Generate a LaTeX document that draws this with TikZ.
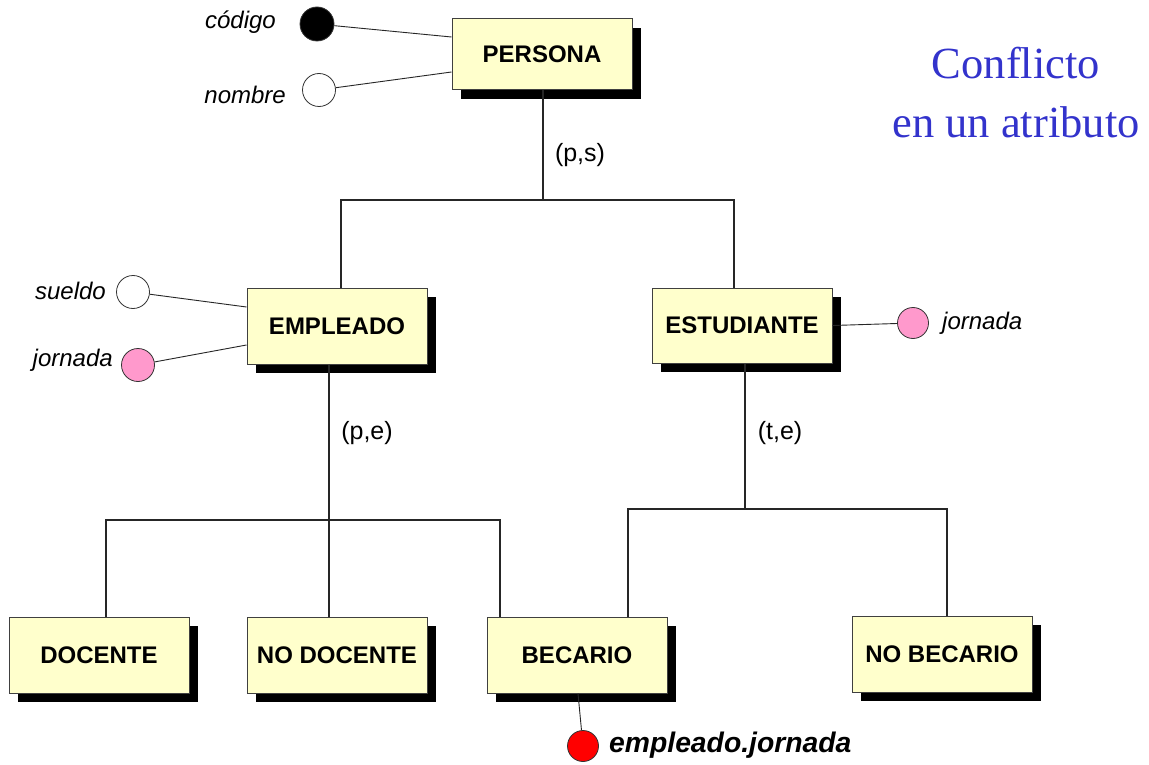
\documentclass[tikz,border=0pt]{standalone}
\usepackage{fontspec}
\setmainfont{Liberation Serif}
\newfontfamily\arialf{Liberation Sans}
\usetikzlibrary{shadows,calc}
\definecolor{boxfill}{RGB}{255,255,204}
\definecolor{pinkattr}{RGB}{255,153,204}
\definecolor{titleblue}{RGB}{51,51,204}
\begin{document}
\begin{tikzpicture}[x=1pt,y=-1pt,
  entity/.style={draw=black!75, line width=1pt, fill=boxfill, minimum width=180pt, minimum height=76pt,
    inner sep=0pt, font=\arialf\bfseries\fontsize{24}{28}\selectfont,
    general shadow={fill=black, shadow xshift=9pt, shadow yshift=-9pt}},
  attr/.style={circle, draw=black!80, line width=0.8pt, minimum size=33pt, inner sep=0pt},
  attrtext/.style={font=\arialf\itshape\fontsize{24}{28}\selectfont, inner sep=0pt},
  constr/.style={font=\arialf\fontsize{25}{29}\selectfont, inner sep=0pt},
  link/.style={draw=black!85, line width=1.1pt},
  titletext/.style={font=\fontsize{44.5}{50}\selectfont, text=titleblue, inner sep=0pt}
]
\useasboundingbox (0,0) rectangle (1149,765);
\fill[white] (0,0) rectangle (1149,765);

% entities
\node[entity, minimum height=71pt] (persona) at (542,54.5) {PERSONA};
\node[entity] (empleado) at (337,326) {EMPLEADO};
\node[entity, minimum height=75pt] (estudiante) at (742,325.5) {ESTUDIANTE};
\node[entity] (docente) at (99,655) {DOCENTE};
\node[entity] (nodocente) at (337,655) {NO DOCENTE};
\node[entity] (becario) at (577,655) {BECARIO};
\node[entity] (nobecario) at (942,654) {NO BECARIO};

% junctions
\coordinate (j1) at (543,200);
\coordinate (j2) at (329,520);
\coordinate (j3) at (745,509);

% hierarchy connectors
\draw[link] (persona.south -| j1) -- (j1);
\draw[link] ([xshift=4pt]empleado.north) |- (j1) -| ([xshift=-8pt]estudiante.north);
\draw[link] (empleado.south -| j2) -- (nodocente.north -| j2);
\draw[link] ([xshift=7pt]docente.north) |- (j2) -| ([xshift=-77pt]becario.north);
\draw[link] (estudiante.south -| j3) -- (j3);
\draw[link] ([xshift=51pt]becario.north) |- (j3) -| ([xshift=5pt]nobecario.north);

% constraint labels
\node[constr] (ps) at (580,155) {(p,s)};
\node[constr] (pe) at (367,433) {(p,e)};
\node[constr] (te) at (780,433) {(t,e)};

% attributes
\node[attr, fill=black, minimum size=34pt] (cod) at (317,24) {};
\node[attr, fill=white] (nom) at (319,90) {};
\node[attr, fill=white] (sue) at (133,292) {};
\node[attr, fill=pinkattr] (jor1) at (138,365) {};
\node[attr, fill=pinkattr, minimum size=31pt] (jor2) at (913,323) {};
\node[attr, fill=red, minimum size=31pt] (ej) at (583,746) {};

\draw[link, line width=0.9pt] (cod) -- ([yshift=17.5pt]persona.west);
\draw[link, line width=0.9pt] (nom) -- ([yshift=-17.5pt]persona.west);
\draw[link, line width=0.9pt] (sue) -- ([yshift=19pt]empleado.west);
\draw[link, line width=0.9pt] (jor1) -- ([yshift=-19pt]empleado.west);
\draw[link, line width=0.9pt] (jor2) -- (estudiante.east);
\draw[link, line width=0.9pt] (ej) -- ([xshift=1pt]becario.south);

% attribute names
\node[attrtext, anchor=east] (tcod) at (276,22) {código};
\node[attrtext, anchor=east] (tnom) at (286,95) {nombre};
\node[attrtext, anchor=east] (tsue) at (106,291) {sueldo};
\node[attrtext, anchor=east] (tjor1) at (113,360) {jornada};
\node[attrtext, anchor=west] (tjor2) at (942,323) {jornada};
\node[attrtext, anchor=west, font=\arialf\bfseries\itshape\fontsize{28.3}{31}\selectfont] (tej) at (609,745) {empleado.jornada};

% title
\node[titletext] (t1) at (1016,63) {Conflicto};
\node[titletext] (t2) at (1016,122) {en un atributo};
\end{tikzpicture}
\end{document}
